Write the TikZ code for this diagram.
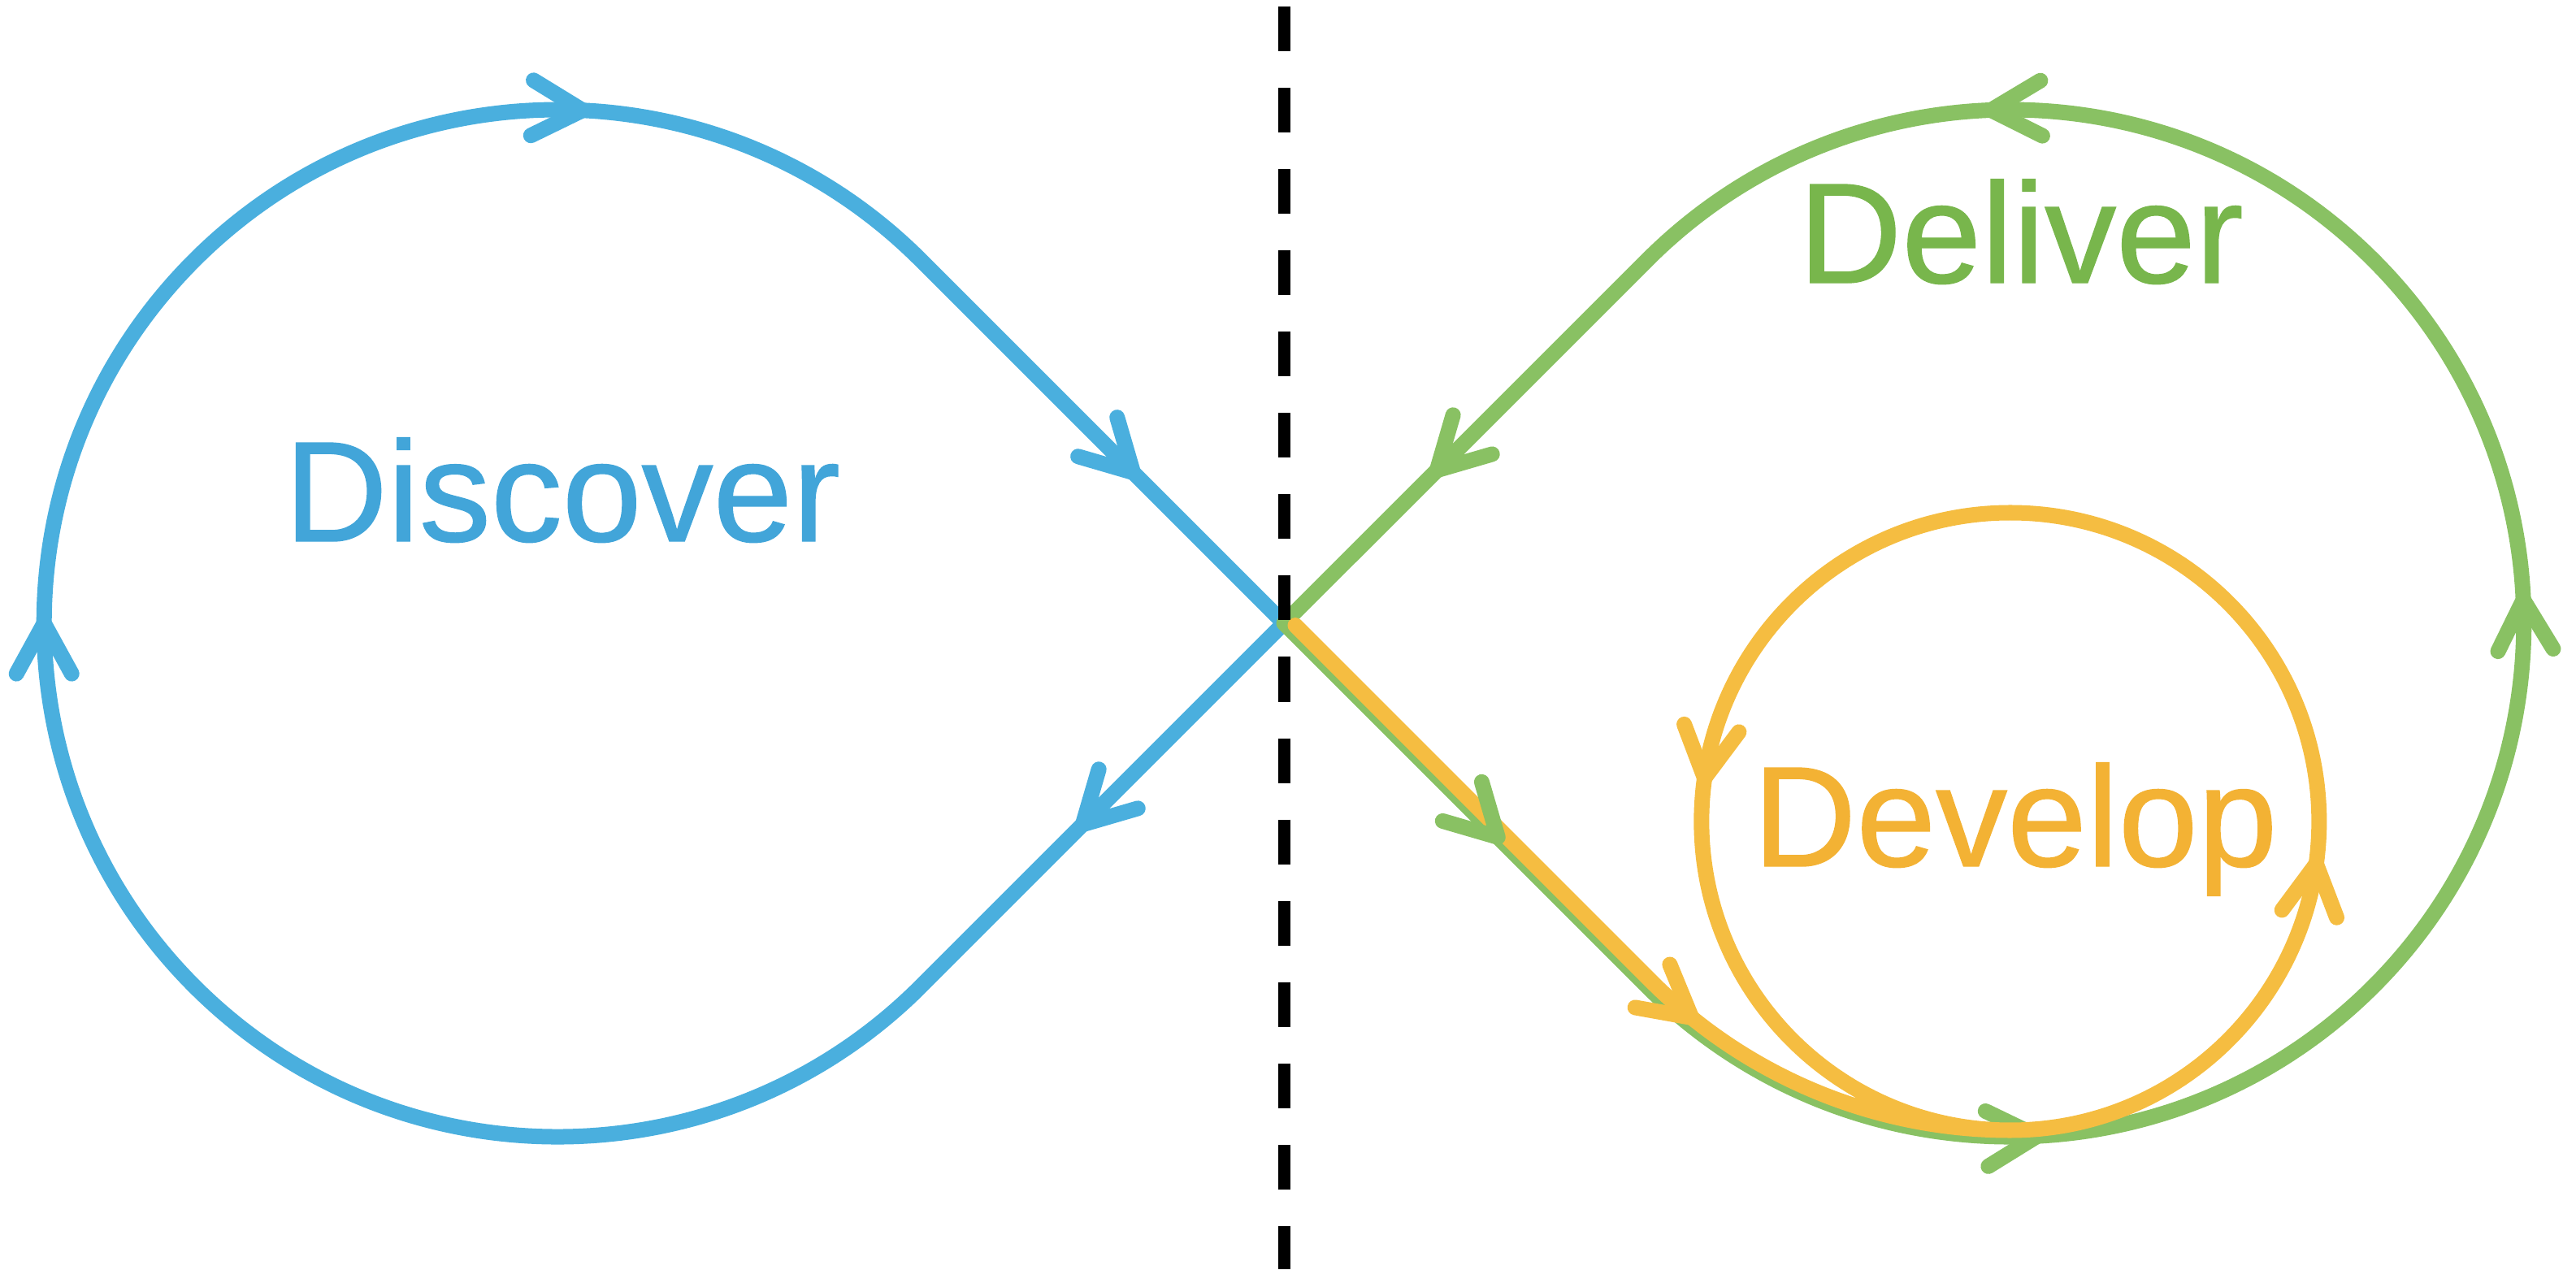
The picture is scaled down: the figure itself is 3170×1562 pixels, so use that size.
\documentclass[tikz,border=0pt]{standalone}
\usepackage{fontspec}
\setmainfont{Liberation Sans}
\newfontfamily\labelfont{Liberation Sans}[FakeBold=0.8]
\usetikzlibrary{decorations.markings}
\definecolor{cblue}{RGB}{74,175,222}
\definecolor{cgreen}{RGB}{137,193,99}
\definecolor{cyellow}{RGB}{245,189,65}
\definecolor{tblue}{RGB}{66,165,217}
\definecolor{tgreen}{RGB}{120,182,76}
\definecolor{tyellow}{RGB}{243,178,52}
\tikzset{
  loopline/.style={line width=0.19cm, line cap=round, line join=round},
  arrowat/.style 2 args={postaction={decorate, decoration={markings,
      mark=at position #1 with {\draw[#2, line width=0.19cm, line cap=round, line join=round] (-62,-34) -- (0,0) -- (-62,34);}}}},
  phaselabel/.style={font=\labelfont\fontsize{50pt}{60pt}\selectfont, anchor=base, inner sep=0pt},
  divider/.style={line width=0.15cm, dash pattern=on 0.55cm off 0.45cm},
}
\begin{document}
\begin{tikzpicture}[x=0.01cm, y=-0.01cm]
\useasboundingbox (0,0) rectangle (3170,1562);
\coordinate (c) at (1580,767);
% blue loop (Discover)
\coordinate (bT1) at (1133.1,1213.9);
\coordinate (bT2) at (1133.1,320.1);
\draw[loopline, cblue,
  arrowat={3.50cm}{cblue}, arrowat={21.20cm}{cblue},
  arrowat={31.43cm}{cblue}, arrowat={39.78cm}{cblue}]
  (c) -- (bT1) arc[start angle=45, end angle=315, radius=632] -- (c);
% green loop (Deliver)
\coordinate (gT1) at (2026.9,1213.9);
\coordinate (gT2) at (2026.9,320.1);
\draw[loopline, cgreen,
  arrowat={11.61cm}{cgreen}, arrowat={21.49cm}{cgreen},
  arrowat={31.36cm}{cgreen}, arrowat={39.74cm}{cgreen}]
  (c) -- (gT1) arc[start angle=135, end angle=-135, radius=632] -- (c);
% yellow loop (Develop)
\coordinate (y0) at (1594,769.6);
\coordinate (yT) at (2032.6,1208.2);
\draw[loopline, cyellow,
  arrowat={6.86cm}{cyellow}, arrowat={16.54cm}{cyellow}, arrowat={28.46cm}{cyellow}]
  (y0) -- (yT) arc[start angle=135, end angle=90, radius=624]
  arc[start angle=90, end angle=-270, radius=380];
% green arrow on the shared segment, on top of yellow
\path[arrowat={3.72cm}{cgreen}] (c) -- (gT1);
% divider
\coordinate (dtop) at (1580,8);
\coordinate (dbot) at (1580,1562);
\draw[divider] (dtop) -- (dbot);
% labels
\node[phaselabel, text=tblue] (discover) at (692,666) {Discover};
\node[phaselabel, text=tgreen] (deliver) at (2487,348) {Deliver};
\node[phaselabel, text=tyellow] (develop) at (2480,1066) {Develop};
\end{tikzpicture}
\end{document}
